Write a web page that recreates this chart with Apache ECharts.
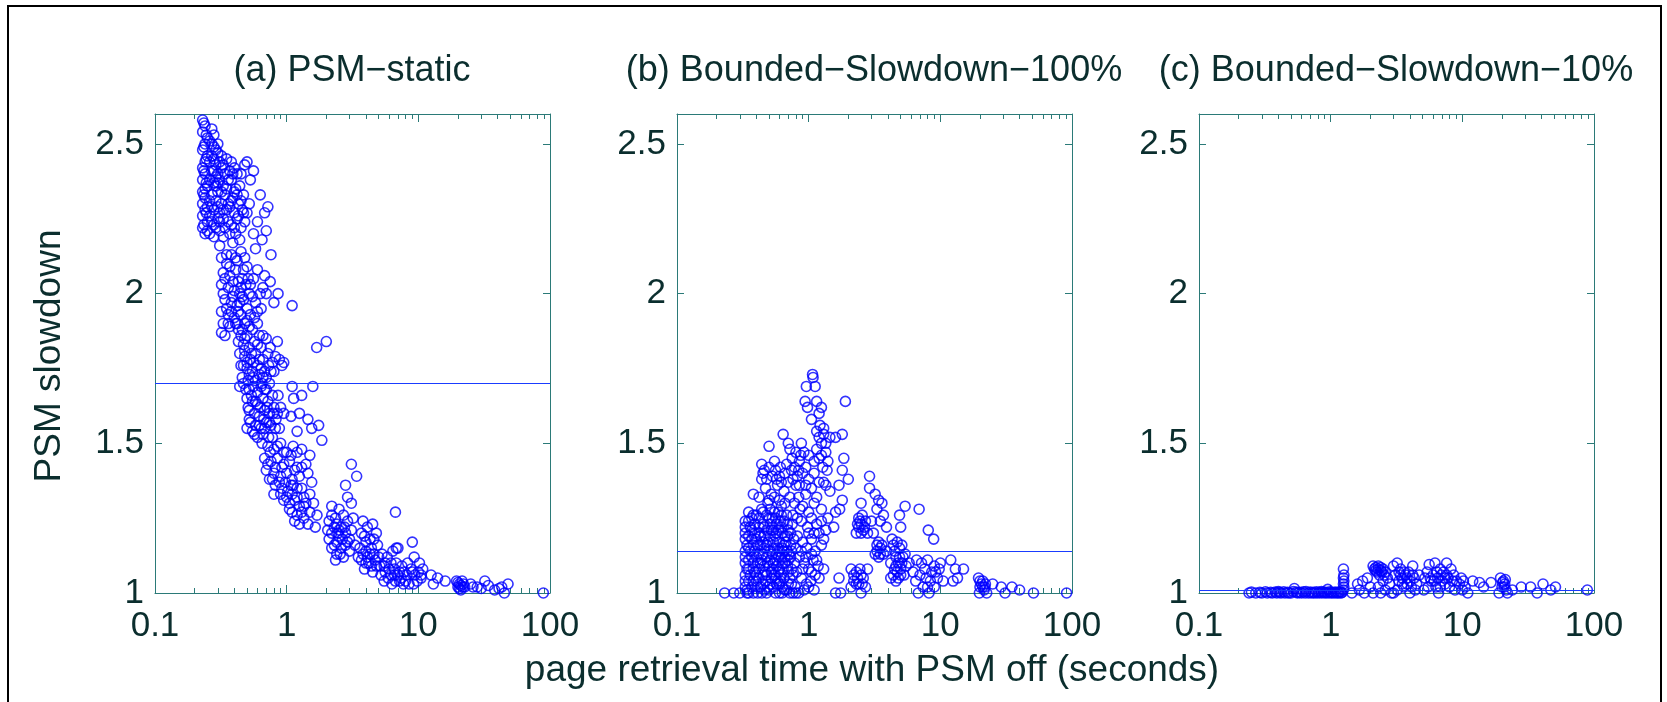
<!DOCTYPE html>
<html>
<head>
<meta charset="utf-8">
<script src="https://cdn.jsdelivr.net/npm/echarts@6/dist/echarts.min.js"></script>
<style>
html, body { margin: 0; padding: 0; background: #fff; }
#container { width: 1667px; height: 702px; }
</style>
</head>
<body>
<div id="container"></div>
<script>
// panel titles and the mean line of each panel
var panelTitles = ['(a) PSM\u2212static', '(b) Bounded\u2212Slowdown\u2212100%', '(c) Bounded\u2212Slowdown\u221210%'];
var meanSlowdown = [1.7, 1.14, 1.01];
var yTicks = [1, 1.5, 2, 2.5];
var xTicks = [0.1, 1, 10, 100];

// (a) PSM-static : [retrieval time, slowdown]
var psmStatic = [
    [0.23,2.58],[0.24,2.56],[0.23,2.54],[0.25,2.52],[0.24,2.5],[0.23,2.48],[0.25,2.46],[0.24,2.44],[0.23,2.42],[0.24,2.4],
    [0.23,2.38],[0.25,2.36],[0.23,2.34],[0.24,2.32],[0.23,2.3],[0.24,2.28],[0.23,2.26],[0.25,2.24],[0.23,2.22],[0.24,2.2],
    [0.25,2.21],[0.24,2.35],[0.25,2.29],
    [0.235,2.57],[0.245,2.53],[0.235,2.49],[0.245,2.45],[0.235,2.41],[0.245,2.37],[0.235,2.33],[0.245,2.27],[0.235,2.23],
    [0.26,2.51],[0.26,2.44],[0.26,2.31],[0.26,2.26],
    [0.27,2.55],[0.28,2.53],[0.27,2.5],[0.29,2.48],[0.28,2.45],[0.3,2.47],[0.29,2.43],[0.27,2.41],[0.3,2.4],[0.32,2.42],
    [0.31,2.38],[0.28,2.37],[0.33,2.36],[0.3,2.34],[0.27,2.33],[0.29,2.31],[0.32,2.3],[0.34,2.33],[0.28,2.28],[0.31,2.27],
    [0.3,2.25],[0.27,2.24],[0.33,2.25],[0.29,2.22],[0.26,2.2],[0.28,2.19],[0.31,2.21],[0.35,2.28],[0.34,2.4],[0.36,2.38],
    [0.3,2.5],[0.32,2.46],[0.35,2.45],[0.27,2.29],[0.29,2.36],[0.26,2.38],[0.33,2.19],[0.31,2.16],[0.28,2.23],
    [0.28,2.49],[0.29,2.39],[0.31,2.44],[0.3,2.29],[0.32,2.34],[0.33,2.28],[0.34,2.22],[0.36,2.3],[0.35,2.35],[0.37,2.41],
    [0.39,2.4],[0.4,2.34],[0.42,2.33],[0.43,2.26],[0.4,2.22],[0.37,2.2],[0.33,2.43],[0.28,2.41],[0.3,2.37],[0.27,2.46],
    [0.31,2.24],[0.36,2.24],[0.38,2.31],[0.45,2.31],[0.47,2.27],[0.45,2.4],[0.48,2.43],
    [0.38,2.44],[0.4,2.42],[0.42,2.4],[0.38,2.38],[0.41,2.35],[0.44,2.36],[0.39,2.32],[0.43,2.3],[0.37,2.29],[0.4,2.27],
    [0.46,2.28],[0.42,2.25],[0.38,2.23],[0.45,2.22],[0.41,2.2],[0.48,2.24],[0.5,2.27],[0.44,2.18],[0.39,2.17],[0.47,2.33],
    [0.52,2.3],[0.5,2.44],[0.56,2.41],[0.53,2.38],
    [0.63,2.33],[0.72,2.29],[0.68,2.27],[0.6,2.24],[0.56,2.2],[0.65,2.18],[0.76,2.13],[0.58,2.15],[0.7,2.21],
    [0.32,2.12],[0.35,2.1],[0.38,2.13],[0.42,2.11],[0.45,2.14],[0.33,2.07],[0.37,2.06],[0.41,2.08],[0.46,2.05],[0.5,2.09],
    [0.32,2.03],[0.36,2.02],[0.4,2.01],[0.44,2.0],[0.49,2.03],[0.34,1.98],[0.38,1.97],[0.42,1.96],[0.47,1.98],[0.52,2.0],
    [0.32,1.94],[0.36,1.93],[0.4,1.92],[0.45,1.93],[0.5,1.95],[0.33,1.9],[0.37,1.89],[0.43,1.88],[0.48,1.9],[0.32,1.87],
    [0.34,1.86],[0.39,2.04],[0.43,2.04],[0.46,1.99],[0.35,1.95],[0.41,2.12],
    [0.33,2.0],[0.34,2.05],[0.35,2.13],[0.37,2.09],[0.39,1.99],[0.38,1.94],[0.36,1.9],[0.41,1.9],[0.43,1.94],[0.44,1.97],
    [0.45,2.02],[0.47,2.08],[0.48,2.12],[0.51,2.05],[0.53,2.03],[0.55,1.99],[0.53,1.93],[0.5,1.91],[0.48,1.85],[0.45,1.86],
    [0.52,1.89],[0.57,1.92],[0.6,1.94],[0.63,2.0],[0.66,2.02],
    [0.6,2.08],[0.68,2.06],[0.75,2.04],[0.86,2.0],[0.8,1.97],[0.64,1.95],[0.56,2.05],[0.7,2.0],[0.58,1.97],[1.1,1.96],
    [0.42,1.9],[0.46,1.88],[0.5,1.86],[0.55,1.88],[0.6,1.9],[0.43,1.84],[0.47,1.83],[0.52,1.82],[0.57,1.84],[0.62,1.86],
    [0.44,1.8],[0.48,1.79],[0.53,1.78],[0.58,1.8],[0.64,1.82],[0.45,1.76],[0.5,1.75],[0.55,1.74],[0.6,1.76],[0.66,1.78],
    [0.46,1.72],[0.51,1.71],[0.56,1.72],[0.62,1.73],[0.68,1.74],[0.72,1.8],[0.7,1.85],[0.75,1.82],[0.78,1.77],[0.82,1.79],
    [0.88,1.78],[0.85,1.84],[0.92,1.76],[0.95,1.77],[0.8,1.74],[1.69,1.82],[2.0,1.84],
    [0.48,1.81],[0.5,1.77],[0.52,1.73],[0.54,1.8],[0.56,1.77],[0.58,1.71],[0.62,1.78],[0.64,1.69],[0.66,1.72],[0.68,1.68],
    [0.7,1.72],[0.73,1.76],[0.74,1.7],[0.76,1.74],[0.6,1.83],[0.66,1.86],[0.64,1.75],[0.47,1.76],
    [0.44,1.69],[0.47,1.7],[0.52,1.68],[0.56,1.69],[0.6,1.67],[0.65,1.7],[0.7,1.68],[0.5,1.65],[0.55,1.64],[0.6,1.63],
    [0.66,1.65],[0.72,1.64],[0.78,1.66],[0.52,1.61],[0.57,1.6],[0.62,1.59],[0.68,1.61],[0.74,1.6],[0.8,1.62],[0.53,1.57],
    [0.58,1.56],[0.64,1.55],[0.7,1.57],[0.76,1.56],[0.83,1.58],[0.55,1.54],[0.6,1.52],[0.66,1.53],[0.73,1.52],[0.88,1.55],
    [0.9,1.62],[0.86,1.66],[0.95,1.6],[0.5,1.55],[0.52,1.58],
    [0.49,1.68],[0.51,1.62],[0.54,1.66],[0.58,1.64],[0.63,1.62],[0.67,1.58],[0.71,1.62],[0.74,1.57],[0.79,1.6],[0.82,1.55],
    [0.85,1.6],[0.62,1.56],[0.57,1.53],[0.68,1.55],[0.78,1.52],
    [1.1,1.69],[1.13,1.65],[1.3,1.66],[1.08,1.59],[1.45,1.58],[1.55,1.55],[1.75,1.56],[1.85,1.51],[1.58,1.69],[1.25,1.6],
    [1.2,1.54],
    [0.65,1.5],[0.72,1.49],[0.8,1.48],[0.9,1.5],[1.0,1.47],[1.12,1.49],[1.3,1.48],[1.5,1.46],[0.68,1.45],[0.76,1.44],
    [0.85,1.45],[0.95,1.43],[1.05,1.44],[1.2,1.42],[1.4,1.43],[0.7,1.41],[0.8,1.4],[0.9,1.39],[1.0,1.4],[1.1,1.38],
    [1.25,1.39],[1.45,1.4],[0.82,1.36],[0.92,1.35],[1.02,1.34],[1.12,1.36],[1.3,1.35],[1.5,1.33],[0.95,1.31],[1.05,1.3],
    [1.15,1.31],[1.25,1.29],[1.4,1.3],[1.6,1.3],[1.1,1.27],[1.2,1.26],[1.35,1.25],[1.5,1.27],[1.7,1.26],[1.15,1.24],
    [1.45,1.23],[1.65,1.22],[0.74,1.38],[0.8,1.33],[1.55,1.37],[3.1,1.43],[3.4,1.39],
    [0.75,1.47],[0.85,1.49],[0.95,1.47],[1.08,1.46],[1.2,1.47],[0.72,1.43],[0.82,1.42],[0.92,1.42],[1.15,1.41],[1.3,1.42],
    [0.78,1.38],[0.88,1.37],[0.98,1.37],[1.08,1.36],[1.2,1.35],[0.9,1.33],[1.0,1.32],[1.1,1.33],[1.2,1.32],[1.35,1.32],
    [1.05,1.28],[1.3,1.27],[1.25,1.23],[1.35,1.29],
    [2.8,1.36],[2.9,1.32],[3.1,1.3],[2.2,1.29],[2.5,1.28],[2.7,1.26],[2.1,1.24],[2.4,1.23],[2.6,1.22],[2.9,1.24],
    [3.2,1.25],[2.2,1.2],[2.5,1.19],[2.8,1.2],[3.1,1.21],[2.3,1.16],[2.6,1.15],[2.9,1.17],[3.3,1.16],[2.1,1.18],
    [2.4,1.13],[2.7,1.12],[3.0,1.14],[2.35,1.11],
    [2.2,1.26],[2.35,1.25],[2.5,1.21],[2.65,1.18],[2.4,1.17],[2.2,1.15],[2.8,1.16],[2.55,1.13],[2.45,1.2],[2.75,1.22],
    [2.3,1.22],[3.0,1.18],[2.05,1.21],
    [3.8,1.24],[4.1,1.22],[4.5,1.23],[3.9,1.19],[4.3,1.18],[4.8,1.2],[3.6,1.15],[4.0,1.14],[4.4,1.15],[4.9,1.16],
    [3.7,1.11],[4.2,1.1],[4.7,1.11],[3.9,1.08],[4.5,1.07],[3.5,1.12],[6.7,1.27],
    [3.7,1.2],[4.0,1.17],[4.3,1.13],[4.6,1.13],[3.8,1.13],[4.1,1.12],[4.4,1.09],[4.8,1.09],[4.0,1.1],[4.6,1.18],
    [5.0,1.12],[5.1,1.09],
    [5.3,1.13],[5.8,1.12],[6.4,1.14],[7.0,1.15],[9.0,1.17],[6.8,1.15],[5.5,1.09],[6.0,1.08],[6.8,1.1],[7.5,1.09],
    [8.3,1.1],[9.3,1.12],[10.2,1.1],[5.2,1.06],[5.9,1.05],[6.6,1.06],[7.4,1.05],[8.2,1.06],[9.0,1.07],[10.5,1.06],
    [6.3,1.03],[7.2,1.04],[8.5,1.03],[9.8,1.04],[10.8,1.08],
    [5.6,1.1],[6.2,1.1],[6.6,1.08],[7.2,1.07],[7.8,1.07],[8.8,1.08],[5.6,1.07],[6.2,1.06],[7.0,1.06],[8.0,1.04],
    [9.4,1.06],[10,1.07],[10.5,1.05],[6.7,1.04],[7.7,1.03],[5.5,1.04],[9.2,1.03],
    [12.5,1.06],[14,1.05],[16,1.04],[13,1.03],[19.5,1.04],[20.5,1.03],[21.5,1.04],[22.5,1.02],[20,1.02],[21,1.01],
    [20,1.035],[21,1.025],[22,1.03],[20.5,1.015],[21.8,1.02],
    [25,1.03],[28,1.02],[32,1.04],[30,1.015],[38,1.01],[43,1.02],[48,1.03],[45,1.0],[89,1.0],
    [26,1.02],[34,1.025],[41,1.015]
];

// (b) Bounded-Slowdown-100%
var bounded100 = [
    [0.23,1.0],[0.27,1.0],[0.3,1.0],
    [0.33,1.24],[0.33,1.2],[0.34,1.16],[0.33,1.12],[0.34,1.08],[0.33,1.04],[0.34,1.01],[0.36,1.22],[0.37,1.18],[0.36,1.14],
    [0.38,1.1],[0.36,1.06],[0.37,1.02],[0.4,1.26],[0.39,1.2],[0.41,1.16],[0.4,1.12],[0.42,1.08],[0.4,1.04],[0.41,1.0],
    [0.44,1.28],[0.45,1.23],[0.43,1.19],[0.46,1.15],[0.44,1.11],[0.47,1.07],[0.45,1.03],[0.48,1.0],[0.49,1.3],[0.5,1.25],
    [0.52,1.21],[0.49,1.17],[0.53,1.13],[0.5,1.09],[0.52,1.05],[0.5,1.01],[0.55,1.27],[0.57,1.23],[0.56,1.19],[0.58,1.15],
    [0.55,1.11],[0.59,1.07],[0.57,1.03],[0.56,1.0],[0.62,1.29],[0.61,1.24],[0.63,1.2],[0.65,1.16],[0.62,1.12],[0.64,1.08],
    [0.61,1.04],[0.63,1.0],[0.68,1.26],[0.7,1.21],[0.67,1.17],[0.71,1.13],[0.69,1.09],[0.72,1.05],[0.68,1.01],[0.75,1.23],
    [0.77,1.18],[0.74,1.14],[0.78,1.1],[0.76,1.06],[0.79,1.02],[0.35,1.27],[0.38,1.26],[0.42,1.22],[0.46,1.19],[0.54,1.17],
    [0.6,1.14],[0.66,1.12],[0.48,1.12],[0.53,1.08],[0.58,1.04],[0.47,1.04],[0.39,1.07],[0.35,1.0],[0.6,1.0],[0.72,1.0],
    [0.33,1.22],[0.33,1.18],[0.33,1.14],[0.33,1.1],[0.33,1.06],[0.33,1.02],[0.34,1.0],[0.35,1.24],[0.35,1.19],[0.35,1.15],
    [0.35,1.11],[0.35,1.08],[0.35,1.04],[0.37,1.25],[0.37,1.21],[0.38,1.16],[0.37,1.12],[0.38,1.08],[0.38,1.04],[0.38,1.0],
    [0.39,1.23],[0.4,1.18],[0.39,1.14],[0.41,1.1],[0.4,1.06],[0.41,1.02],[0.42,1.25],[0.42,1.2],[0.43,1.16],[0.42,1.13],
    [0.43,1.1],[0.42,1.05],[0.43,1.02],[0.44,1.0],[0.45,1.27],[0.46,1.22],[0.45,1.17],[0.45,1.13],[0.46,1.09],[0.45,1.06],
    [0.46,1.01],[0.48,1.26],[0.48,1.21],[0.48,1.16],[0.49,1.1],[0.48,1.06],[0.49,1.02],[0.51,1.28],[0.51,1.23],[0.51,1.19],
    [0.51,1.14],[0.51,1.11],[0.52,1.07],[0.51,1.03],[0.53,1.25],[0.54,1.21],[0.54,1.15],[0.54,1.1],[0.55,1.06],[0.54,1.02],
    [0.56,1.25],[0.57,1.2],[0.57,1.13],[0.57,1.09],[0.56,1.05],[0.59,1.27],[0.59,1.21],[0.6,1.17],[0.59,1.12],[0.6,1.08],
    [0.6,1.03],[0.62,1.26],[0.62,1.22],[0.63,1.15],[0.63,1.1],[0.62,1.06],[0.63,1.02],[0.65,1.24],[0.66,1.19],[0.65,1.14],
    [0.66,1.1],[0.65,1.05],[0.66,1.01],[0.69,1.23],[0.69,1.19],[0.69,1.14],[0.7,1.11],[0.7,1.07],[0.7,1.03],[0.73,1.2],
    [0.73,1.16],[0.73,1.12],[0.74,1.08],[0.74,1.03],[0.76,1.0],[0.8,1.15],[0.81,1.07],[0.8,1.0],
    [0.44,1.43],[0.45,1.4],[0.44,1.38],[0.46,1.41],[0.5,1.49],[0.64,1.53],[0.55,1.44],[0.61,1.42],[0.6,1.39],[0.56,1.41],
    [0.72,1.48],[0.75,1.45],[0.8,1.47],[0.85,1.44],[0.78,1.42],[0.9,1.4],[0.82,1.39],[0.7,1.5],[0.88,1.5],[0.47,1.35],
    [0.52,1.33],[0.58,1.36],[0.65,1.34],[0.42,1.32],[0.38,1.33],[0.7,1.37],
    [0.48,1.38],[0.5,1.42],[0.53,1.39],[0.57,1.38],[0.62,1.37],[0.66,1.4],[0.68,1.43],[0.74,1.41],[0.76,1.38],[0.8,1.36],
    [0.84,1.41],[0.87,1.46],[0.92,1.47],[0.95,1.42],[0.5,1.31],[0.55,1.32],[0.6,1.31],[0.66,1.3],[0.72,1.32],[0.78,1.3],
    [0.84,1.32],[0.76,1.26],[0.82,1.25],[0.86,1.28],
    [1.07,1.73],[1.08,1.72],[0.96,1.69],[1.12,1.69],[0.94,1.64],[0.98,1.62],[1.15,1.64],[1.25,1.62],[1.2,1.6],[1.05,1.58],
    [1.9,1.64],
    [1.15,1.54],[1.2,1.52],[1.3,1.53],[1.25,1.5],[1.15,1.48],[1.35,1.47],[1.2,1.45],[1.4,1.44],[1.28,1.42],[1.45,1.52],
    [1.6,1.52],[1.8,1.53],[1.85,1.45],[1.8,1.41],[2.0,1.38],[1.1,1.44],[1.0,1.46],
    [1.22,1.56],[1.3,1.55],[1.35,1.5],[1.25,1.46],[1.38,1.41],[1.1,1.4],[1.0,1.38],[0.95,1.36],[1.2,1.37],[1.35,1.36],
    [0.85,1.36],[0.95,1.33],[1.05,1.35],[1.15,1.32],[1.3,1.37],[1.45,1.34],[0.9,1.29],[1.0,1.27],[1.1,1.3],[1.25,1.28],
    [1.4,1.25],[1.6,1.27],[0.88,1.24],[0.98,1.22],[1.15,1.23],[1.35,1.21],[1.55,1.22],[1.7,1.36],[1.8,1.31],[1.72,1.28],
    [1.05,1.25],[1.25,1.24],[1.0,1.2],[1.1,1.2],[1.3,1.18],[0.95,1.12],[1.05,1.13],[1.15,1.11],[0.9,1.08],[1.05,1.07],
    [1.2,1.05],[1.0,1.02],[0.88,1.14],
    [0.82,1.19],[0.9,1.17],[0.97,1.15],[1.05,1.18],[1.12,1.14],[0.85,1.12],[0.93,1.1],[1.0,1.08],[1.08,1.11],[1.18,1.09],
    [0.88,1.05],[0.96,1.03],[1.04,1.04],[1.12,1.06],[0.84,1.0],[0.92,1.01],[1.1,1.01],[1.3,1.08],[1.7,1.05],[1.6,1.0],
    [1.75,1.0],[2.5,1.0],[1.25,1.16],[1.2,1.2],
    [2.9,1.39],[2.9,1.35],[2.5,1.3],[2.4,1.25],[2.5,1.23],[2.6,1.21],[2.4,1.22],[2.7,1.24],[2.3,1.2],[2.8,1.2],
    [2.45,1.24],[2.55,1.26],[2.65,1.22],[2.35,1.23],[2.5,1.2],
    [2.1,1.08],[2.3,1.07],[2.5,1.06],[2.2,1.04],[2.4,1.03],[2.6,1.05],[2.8,1.08],[2.1,1.02],[2.7,1.02],
    [2.2,1.06],[2.35,1.05],[2.45,1.08],[2.3,1.03],[2.55,1.03],
    [3.2,1.33],[3.4,1.31],[3.6,1.3],[3.3,1.28],[3.7,1.26],[3.5,1.24],[3.9,1.22],[3.1,1.2],[3.3,1.16],[3.5,1.15],
    [3.7,1.13],[3.4,1.12],[3.9,1.14],[3.0,1.24],
    [3.3,1.14],[3.5,1.13],[3.6,1.16],[3.4,1.17],[3.2,1.13],
    [4.9,1.26],[5.4,1.29],[5.0,1.22],[6.9,1.28],[4.3,1.18],[4.7,1.17],[5.1,1.16],[4.5,1.14],[4.9,1.12],[5.4,1.13],
    [4.2,1.1],[4.6,1.09],[5.0,1.08],[5.5,1.09],[4.4,1.06],[4.8,1.05],[5.3,1.06],[4.2,1.05],[5.8,1.1],[6.2,1.07],[6.5,1.04],
    [4.4,1.16],[4.6,1.12],[4.8,1.1],[5.1,1.1],[4.5,1.08],[4.7,1.07],[5.2,1.12],[4.9,1.15],[4.6,1.04],[5.0,1.06],
    [8.1,1.21],[8.9,1.18],[6.6,1.11],[7.2,1.1],[8.0,1.11],[9.0,1.09],[10.0,1.1],[7.0,1.06],[7.8,1.05],[8.6,1.07],
    [9.5,1.05],[7.4,1.02],[8.2,1.0],[9.0,1.02],[10.5,1.04],[6.8,1.0],
    [7.6,1.08],[8.4,1.04],[9.2,1.07],[8.0,1.02],[9.8,1.08],
    [12.0,1.11],[13.0,1.08],[15.0,1.08],[13.5,1.05],[12.5,1.04],
    [19.5,1.05],[21,1.04],[22,1.03],[20,1.02],[21.5,1.01],[19.8,1.0],[22.5,1.0],
    [20.5,1.03],[21,1.02],[20,1.04],[21.8,1.02],
    [25,1.03],[29,1.02],[31,1.0],[35,1.02],[40,1.01],[51,1.0],[91,1.0]
];

// (c) Bounded-Slowdown-10%
var bounded10 = [
    [0.24,1.0],[0.27,1.0],[0.3,1.0],[0.33,1.0],[0.36,1.0],[0.39,1.0],[0.42,1.0],[0.45,1.0],[0.48,1.0],[0.52,1.005],
    [0.56,1.0],[0.6,1.0],[0.64,1.0],[0.68,1.0],[0.72,1.0],[0.76,1.0],[0.8,1.0],[0.85,1.0],[0.9,1.0],[0.95,1.0],
    [1.0,1.0],[1.05,1.0],[1.1,1.0],[1.15,1.0],[1.2,1.0],[0.53,1.015],[0.95,1.012],[0.4,1.005],[0.65,1.005],[0.85,1.005],
    [0.25,1.003],[0.29,1.002],[0.32,1.004],[0.35,1.002],[0.38,1.003],[0.41,1.002],[0.44,1.004],[0.47,1.002],[0.5,1.0],
    [0.55,1.003],[0.58,1.002],[0.62,1.004],[0.7,1.003],[0.74,1.002],[0.78,1.004],[0.82,1.002],[0.88,1.003],[0.92,1.002],
    [0.98,1.004],[1.02,1.002],[1.08,1.003],[1.13,1.002],[1.18,1.004],[1.22,1.002],
    [1.25,1.08],[1.26,1.06],[1.25,1.05],[1.26,1.04],[1.25,1.03],[1.26,1.02],[1.25,1.01],
    [1.45,1.0],[1.6,1.03],[1.65,1.01],[1.75,1.04],[1.9,1.05],[2.0,1.02],[2.1,1.0],[1.8,1.0],
    [2.1,1.09],[2.2,1.085],[2.3,1.08],[2.25,1.07],[2.4,1.075],[2.5,1.08],[2.6,1.07],[2.35,1.06],[2.7,1.05],[2.5,1.04],
    [2.8,1.03],[2.3,1.02],[2.6,1.01],[2.4,1.0],[2.9,1.0],
    [2.2,1.075],[2.3,1.09],[2.4,1.085],[2.15,1.08],[2.45,1.07],[2.55,1.06],
    [3.2,1.1],[3.0,1.09],[3.4,1.08],[3.7,1.06],[4.2,1.09],[3.1,1.06],[3.5,1.05],[3.9,1.07],[4.3,1.05],[3.3,1.04],
    [3.8,1.03],[4.1,1.02],[3.6,1.02],[4.4,1.01],[3.2,1.01],[3.0,1.0],[4.0,1.0],[4.5,1.03],[4.7,1.06],
    [3.3,1.07],[3.6,1.07],[3.4,1.06],[3.8,1.05],[4.0,1.04],[3.5,1.03],[4.2,1.06],
    [5.6,1.095],[6.2,1.1],[7.6,1.1],[6.8,1.08],[5.4,1.07],[6.0,1.06],[7.2,1.07],[8.2,1.08],[5.2,1.05],[5.8,1.04],
    [6.5,1.05],[7.0,1.04],[7.8,1.05],[8.6,1.06],[5.5,1.02],[6.3,1.02],[7.4,1.03],[8.0,1.02],[9.0,1.04],[5.1,1.01],
    [6.6,1.0],[8.8,1.01],[9.5,1.03],
    [6.4,1.07],[6.9,1.06],[7.4,1.05],[6.1,1.04],[5.7,1.05],[6.8,1.02],[7.6,1.06],[8.4,1.04],
    [9.8,1.05],[10.2,1.04],[10.5,1.02],[10,1.01],[11,1.0],
    [12,1.04],[13.5,1.035],[16.5,1.035],[14.5,1.02],
    [19.5,1.05],[20.5,1.04],[21,1.03],[20,1.02],[21.5,1.01],[19,1.0],[22,1.0],
    [20.2,1.035],[20.8,1.02],[21.2,1.045],
    [24,1.01],[28,1.02],[33,1.02],[37,1.0],[41,1.03],[47,1.01],[51,1.02],[89,1.01]
];

var panels = [psmStatic, bounded100, bounded10];
var gridLeft = [155, 677, 1199];

var textColor = '#0b2e2e';
var axisColor = '#2b7a78';
var markColor = '#0000ff';
var fontName = 'Liberation Sans';

var dom = document.getElementById('container');
var myChart = echarts.init(dom);

var grids = [], xAxes = [], yAxes = [], series = [], graphics = [];

for (var i = 0; i < 3; i++) {
    grids.push({ left: gridLeft[i], top: 114, width: 395, height: 479 });

    // bottom and top x axes (log)
    for (var k = 0; k < 2; k++) {
        xAxes.push({
            type: 'log', logBase: 10, gridIndex: i,
            position: k == 0 ? 'bottom' : 'top',
            min: xTicks[0], max: xTicks[xTicks.length - 1],
            axisLine: { lineStyle: { color: axisColor, width: 1 } },
            axisTick: { inside: true, length: 8, lineStyle: { color: axisColor } },
            minorTick: { show: true, splitNumber: 9, length: 5, lineStyle: { color: axisColor } },
            splitLine: { show: false },
            axisLabel: {
                show: k == 0, margin: 16, fontSize: 35, color: textColor, fontFamily: fontName,
                formatter: function (v) { return String(v); }
            }
        });
    }
    // left and right y axes
    for (var k = 0; k < 2; k++) {
        yAxes.push({
            type: 'value', gridIndex: i,
            position: k == 0 ? 'left' : 'right',
            min: yTicks[0], max: 2.6, interval: 0.5,
            axisLine: { show: true, lineStyle: { color: axisColor, width: 1 } },
            axisTick: { show: true, inside: true, length: 7, lineStyle: { color: axisColor } },
            splitLine: { show: false },
            axisLabel: {
                show: k == 0, showMaxLabel: false, margin: 11, fontSize: 35,
                color: textColor, fontFamily: fontName
            }
        });
    }

    series.push({
        type: 'scatter',
        xAxisIndex: i * 2, yAxisIndex: i * 2,
        data: panels[i],
        symbol: 'circle', symbolSize: 10,
        itemStyle: { color: 'rgba(0,0,0,0)', borderColor: markColor, borderWidth: 1.6 },
        markLine: {
            silent: true, symbol: ['none', 'none'],
            label: { show: false },
            lineStyle: { color: '#1a3cff', width: 1.2, type: 'solid' },
            data: [{ yAxis: meanSlowdown[i] }]
        }
    });

    graphics.push({
        type: 'text', x: gridLeft[i] + 197, y: 71,
        style: {
            text: panelTitles[i], fill: textColor, fontSize: 36, fontFamily: fontName,
            textAlign: 'center', textVerticalAlign: 'middle'
        }
    });
}

graphics.push({
    type: 'text', x: 872, y: 671,
    style: {
        text: 'page retrieval time with PSM off (seconds)', fill: textColor, fontSize: 37,
        fontFamily: fontName, textAlign: 'center', textVerticalAlign: 'middle'
    }
});
graphics.push({
    type: 'text', x: 50, y: 356, rotation: Math.PI / 2,
    style: {
        text: 'PSM slowdown', fill: textColor, fontSize: 37,
        fontFamily: fontName, textAlign: 'center', textVerticalAlign: 'middle'
    }
});
// outer frame of the figure
graphics.push({
    type: 'rect', shape: { x: 8, y: 6, width: 1653, height: 720 },
    style: { fill: 'none', stroke: '#000', lineWidth: 2 }
});

var option = {
    animation: false,
    backgroundColor: '#fff',
    grid: grids,
    xAxis: xAxes,
    yAxis: yAxes,
    series: series,
    graphic: graphics
};

if (option && typeof option === 'object') {
    myChart.setOption(option);
}
</script>
</body>
</html>
